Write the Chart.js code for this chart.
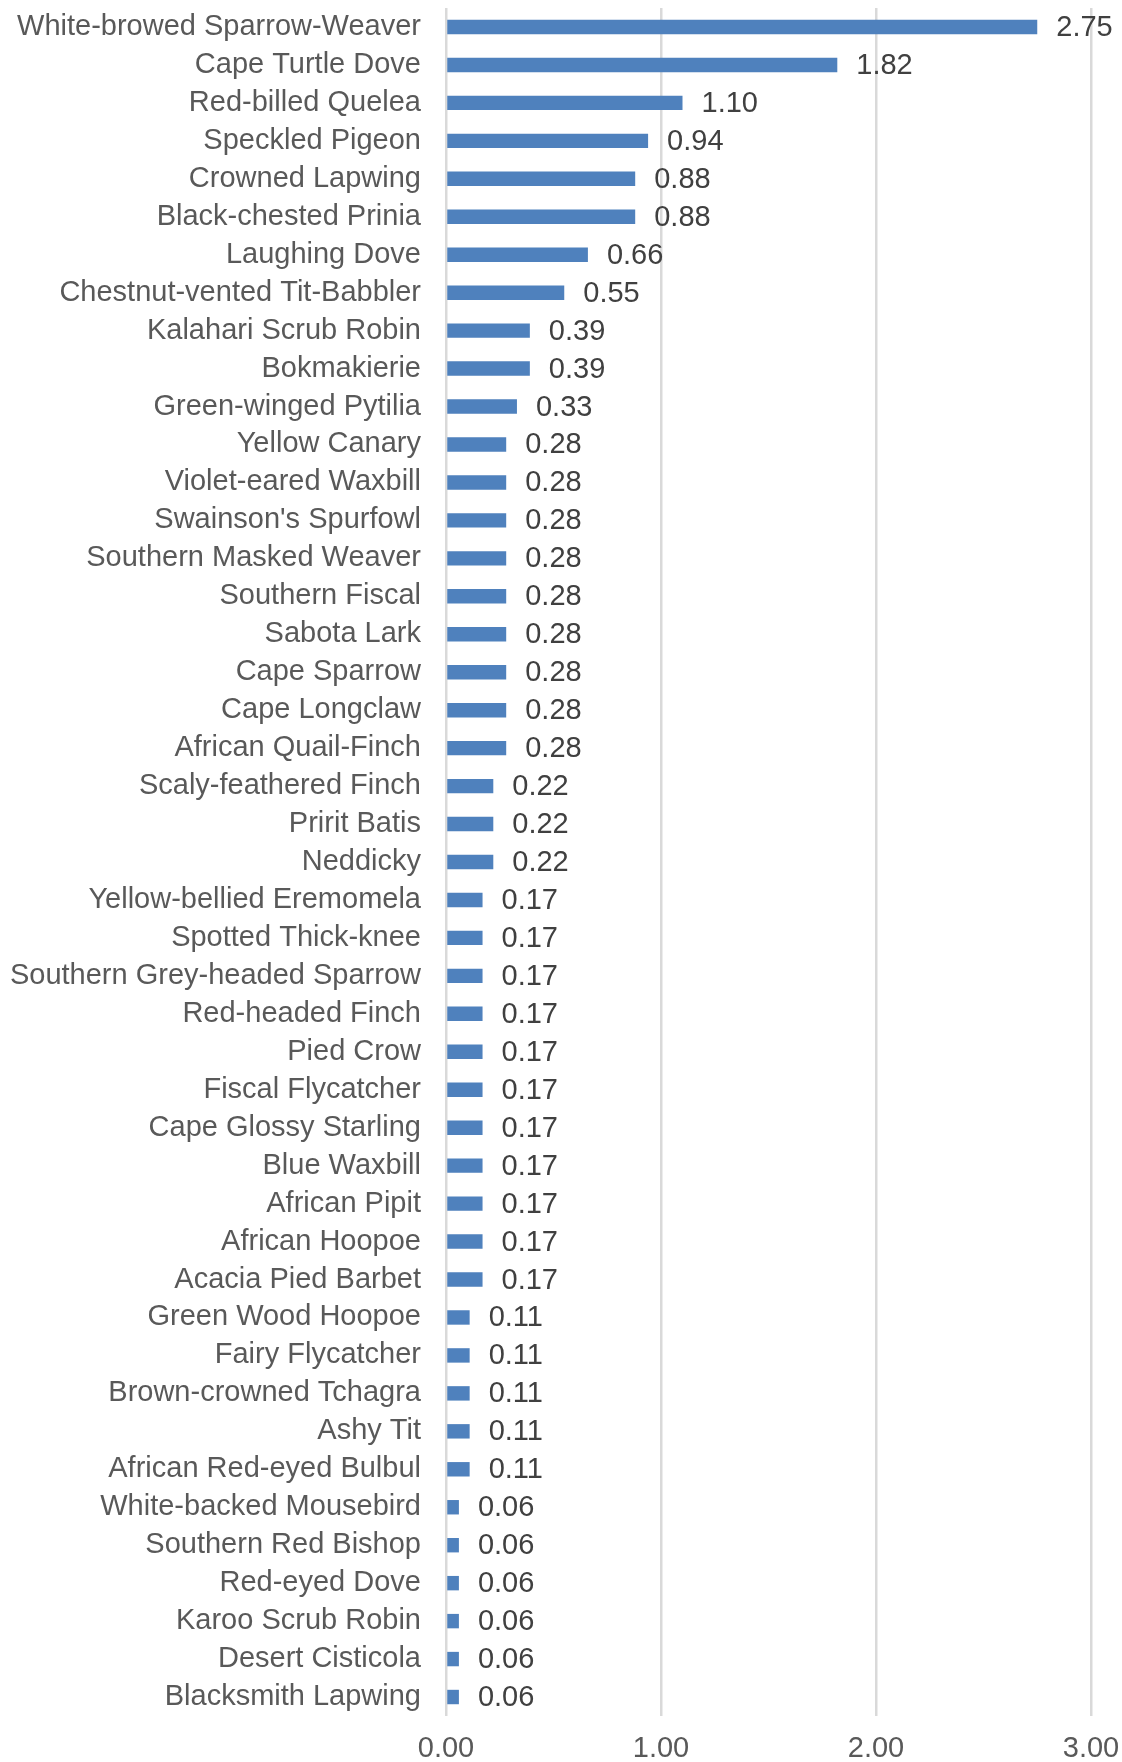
<!DOCTYPE html>
<html>
<head>
<meta charset="utf-8">
<script src="https://cdn.jsdelivr.net/npm/chart.js@4/dist/chart.umd.min.js"></script>
<style>
html,body{margin:0;padding:0;background:#fff;}
#wrap{width:1122px;height:1762px;position:relative;}
</style>
</head>
<body>
<div id="wrap"><canvas id="c" width="1122" height="1762"></canvas></div>
<script>
const categories = [
  "White-browed Sparrow-Weaver","Cape Turtle Dove","Red-billed Quelea","Speckled Pigeon",
  "Crowned Lapwing","Black-chested Prinia","Laughing Dove","Chestnut-vented Tit-Babbler",
  "Kalahari Scrub Robin","Bokmakierie","Green-winged Pytilia","Yellow Canary",
  "Violet-eared Waxbill","Swainson's Spurfowl","Southern Masked Weaver","Southern Fiscal",
  "Sabota Lark","Cape Sparrow","Cape Longclaw","African Quail-Finch",
  "Scaly-feathered Finch","Pririt Batis","Neddicky","Yellow-bellied Eremomela",
  "Spotted Thick-knee","Southern Grey-headed Sparrow","Red-headed Finch","Pied Crow",
  "Fiscal Flycatcher","Cape Glossy Starling","Blue Waxbill","African Pipit",
  "African Hoopoe","Acacia Pied Barbet","Green Wood Hoopoe","Fairy Flycatcher",
  "Brown-crowned Tchagra","Ashy Tit","African Red-eyed Bulbul","White-backed Mousebird",
  "Southern Red Bishop","Red-eyed Dove","Karoo Scrub Robin","Desert Cisticola",
  "Blacksmith Lapwing"
];
const values = [
  2.75,1.82,1.10,0.94,
  0.88,0.88,0.66,0.55,
  0.39,0.39,0.33,0.28,
  0.28,0.28,0.28,0.28,
  0.28,0.28,0.28,0.28,
  0.22,0.22,0.22,0.17,
  0.17,0.17,0.17,0.17,
  0.17,0.17,0.17,0.17,
  0.17,0.17,0.11,0.11,
  0.11,0.11,0.11,0.06,
  0.06,0.06,0.06,0.06,
  0.06
];
const xTickMin = 0, xTickMax = 3, xTickStep = 1;

const FONT = '"Liberation Sans", Arial, sans-serif';

const dataLabels = {
  id: 'dataLabels',
  afterDatasetsDraw(chart) {
    const ctx = chart.ctx;
    const meta = chart.getDatasetMeta(0);
    ctx.save();
    ctx.font = '29px ' + FONT;
    ctx.fillStyle = '#404040';
    ctx.textAlign = 'left';
    ctx.textBaseline = 'middle';
    meta.data.forEach((el, i) => {
      const v = chart.data.datasets[0].data[i];
      ctx.fillText(v.toFixed(2), el.x + 19, el.y + 1);
    });
    ctx.restore();
  }
};

new Chart(document.getElementById('c'), {
  type: 'bar',
  data: {
    labels: categories,
    datasets: [{
      data: values,
      backgroundColor: '#4f81bd',
      borderWidth: 0,
      categoryPercentage: 1.0,
      barPercentage: 0.38
    }]
  },
  options: {
    indexAxis: 'y',
    responsive: false,
    animation: false,
    devicePixelRatio: 1,
    layout: { padding: { top: 8, right: 31, left: 0, bottom: 0 } },
    plugins: { legend: { display: false }, tooltip: { enabled: false } },
    scales: {
      x: {
        min: xTickMin, max: xTickMax,
        ticks: {
          stepSize: xTickStep,
          color: '#595959',
          font: { family: FONT, size: 29 },
          padding: 16,
          callback: v => Number(v).toFixed(2)
        },
        grid: { color: '#d9d9d9', lineWidth: 2.5, drawTicks: false },
        border: { display: false },
        afterFit(scale) {
          scale.height = 46;
          scale.paddingLeft = 0; scale.paddingRight = 0;
          scale.paddingTop = 0; scale.paddingBottom = 0;
        }
      },
      y: {
        ticks: {
          autoSkip: false,
          color: '#595959',
          font: { family: FONT, size: 29 },
          padding: 25
        },
        grid: { display: false, drawTicks: false },
        border: { display: false },
        afterFit(scale) {
          scale.width = 446;
          scale.paddingTop = 0; scale.paddingBottom = 0;
          scale.paddingLeft = 0; scale.paddingRight = 0;
        }
      }
    }
  },
  plugins: [dataLabels]
});
</script>
</body>
</html>
